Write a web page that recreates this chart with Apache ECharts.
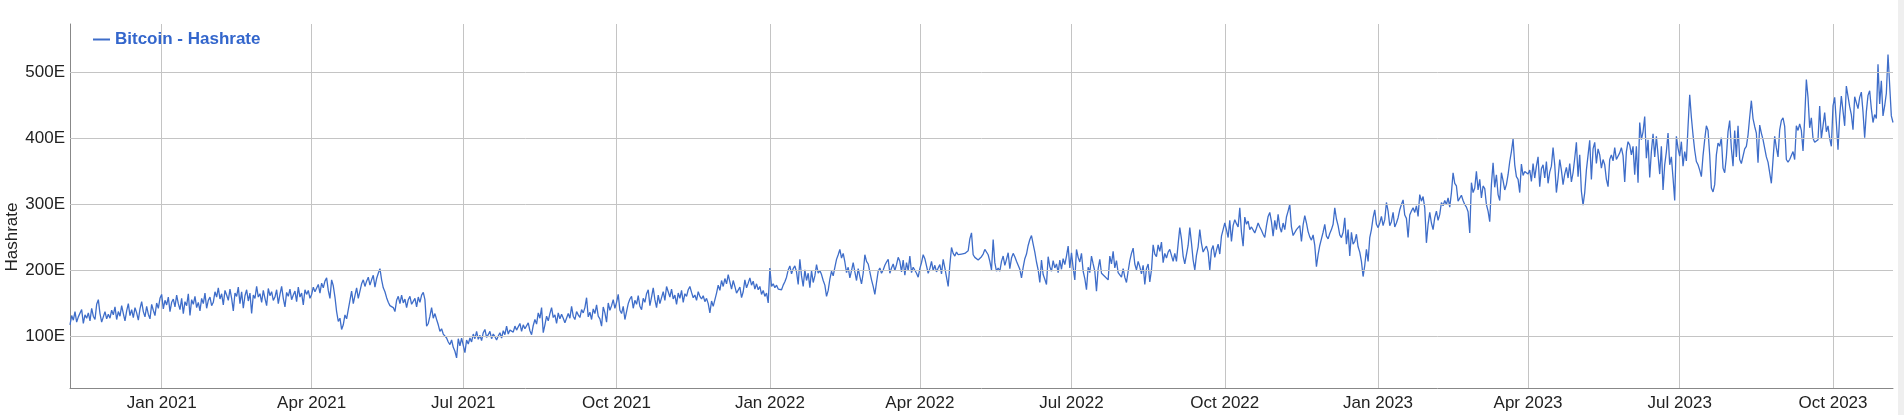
<!DOCTYPE html>
<html>
<head>
<meta charset="utf-8">
<script src="https://cdn.jsdelivr.net/npm/echarts@6/dist/echarts.min.js"></script>
<style>
html,body{margin:0;padding:0;background:#fff;}
#chart{width:1904px;height:415px;}
</style>
</head>
<body>
<div id="chart"></div>
<script>
// ---- data (daily, starting 2020-11-07) ----
const startDate = '2020-11-07';
const seriesName = 'Bitcoin - Hashrate';
const yAxisTitle = 'Hashrate';
const yTicks = [100, 200, 300, 400, 500];
const quarterMonths = ['01', '04', '07', '10'];
const monthNames = ['Jan','Feb','Mar','Apr','May','Jun','Jul','Aug','Sep','Oct','Nov','Dec'];

const hr2020 = [
  118,132,125,138,122,130,127,141,120,133,128,136,124,143,131,126,149,156,135,122,130,138,127,134,
  128,140,133,145,126,138,131,147,135,124,139,150,132,141,129,144,136,125,142,153,138,130,146,134,127,149,140,132,151,143,158
];
const hr2021 = [
  164,142,155,148,160,138,152,157,145,163,150,141,158,135,153,147,165,132,156,149,161,144,152,139,158,150,166,143,155,160,147,
  152,168,160,174,157,165,148,170,163,155,172,158,139,166,161,175,150,168,143,162,171,154,166,135,163,158,176,160,
  165,152,170,158,147,173,162,168,155,160,171,150,164,176,158,145,167,161,172,156,163,169,153,175,160,166,148,171,164,170,158,
  164,175,168,171,179,166,181,174,184,189,170,158,186,177,160,138,123,128,111,118,133,127,141,155,169,150,162,174,158,156,
  180,186,176,184,190,178,186,193,175,188,196,203,186,174,168,159,152,147,150,144,138,155,161,150,163,151,157,144,156,161,149,
  148,158,145,160,152,163,167,156,116,120,131,144,128,135,126,118,108,112,104,106,98,92,88,95,84,78,68,97,86,98,
  100,76,95,89,98,92,104,97,108,96,102,94,106,111,99,103,108,97,104,100,95,101,106,98,109,103,116,104,110,113,107,
  116,110,113,120,108,118,112,115,121,109,103,117,126,119,136,128,144,106,118,131,124,135,144,129,133,120,136,127,134,128,121,
  124,135,128,146,131,126,138,133,129,141,136,144,159,130,137,126,142,135,148,131,127,116,145,136,122,151,140,147,156,143,
  152,164,140,135,146,126,138,150,157,161,143,155,149,162,146,141,158,152,165,171,147,160,174,156,144,163,150,159,168,155,176,
  168,160,172,157,163,149,166,158,170,152,165,161,171,176,167,159,163,155,168,161,157,162,153,158,150,136,154,146,144,166,
  178,170,185,176,188,180,194,183,172,185,176,166,164,175,159,168,186,174,181,189,178,184,172,180,171,176,164,170,161,166,151
];
const hr2022 = [
  204,176,180,174,178,172,175,171,178,183,190,201,207,195,203,207,198,179,217,192,176,201,185,196,174,200,182,192,209,196,200,
  194,185,178,161,170,187,199,192,205,217,224,232,219,226,213,197,205,189,200,212,198,185,203,191,180,196,224,214,
  210,198,186,176,164,182,199,204,196,201,208,213,217,196,204,210,200,209,220,214,198,216,193,212,200,222,197,205,208,196,190,
  203,212,224,218,207,196,203,214,200,208,198,204,209,195,217,204,190,176,208,235,226,222,228,224,221,225,223,226,224,230,
  248,257,224,220,218,216,219,221,225,232,229,224,214,201,247,212,199,204,199,214,222,208,217,227,203,219,226,221,214,211,202,
  189,205,218,225,238,247,253,240,228,213,201,182,216,194,187,179,221,206,199,215,204,210,197,216,202,218,209,222,237,204,
  227,204,186,232,220,213,226,199,188,171,205,197,222,210,199,169,203,217,196,193,191,190,186,222,210,229,204,215,197,194,190,
  203,190,182,199,215,226,234,210,201,214,206,195,208,179,203,210,183,201,239,225,221,239,229,243,212,226,219,228,232,230,214,
  226,214,240,265,248,222,210,207,238,265,242,216,201,223,236,262,241,228,233,237,228,201,231,238,220,231,240,225,252,262,
  272,262,250,276,244,268,277,271,266,295,258,237,281,270,275,262,266,268,257,264,272,266,261,255,250,268,282,288,274,252,276,
  262,285,266,258,272,262,281,290,300,266,253,251,262,265,268,244,269,283,272,259,251,246,254,238,206,224,238,248,258,270,
  252,248,256,262,270,295,278,268,254,250,258,280,240,262,222,258,240,244,255,236,228,214,191,208,232,214,250,262,280,292,270
];
const hr2023 = [
  265,272,282,268,277,303,290,268,274,288,266,272,280,292,300,307,284,279,250,284,290,295,288,298,282,315,305,312,295,242,270,
  288,272,262,280,290,276,285,303,298,306,300,310,296,318,348,332,328,305,302,314,306,300,296,289,257,333,318,325,
  350,322,338,310,328,324,300,290,274,330,363,326,345,315,306,348,336,322,330,345,365,380,399,360,342,338,318,361,344,350,352,
  346,352,335,362,340,358,372,327,354,360,340,365,332,349,358,386,360,318,340,368,352,330,346,356,340,362,334,348,370,394,
  342,375,320,299,318,352,350,397,338,384,394,362,384,375,355,368,360,338,327,368,375,366,386,368,368,378,386,374,334,380,395,
  390,375,388,345,388,333,424,398,410,433,370,398,341,380,407,372,403,375,346,388,322,360,380,408,360,372,340,306,403,385,
  373,395,358,380,366,418,466,432,405,382,365,360,352,342,374,398,419,412,375,325,319,330,375,393,388,401,355,348,372,410,427,
  385,358,412,372,419,368,362,360,384,388,405,432,457,430,418,408,363,420,408,398,395,372,364,365,332,330,403,386,372,413,427,
  431,418,368,364,368,374,380,368,419,412,422,412,381,430,489,462,416,431,400,394,393,398,449,400,419,439,410,419,400,388,
  449,462,424,383,434,464,466,419,479,482,448,436,413,463,460,445,462,470,440,401,440,465,472,445,424,436,430,512,452,487,434,
  449,468,527,525,434,424
];

const values = hr2020.concat(hr2021, hr2022, hr2023);
const categories = [];
(function () {
  const p = startDate.split('-').map(Number);
  const t0 = Date.UTC(p[0], p[1] - 1, p[2]);
  for (let i = 0; i < values.length; i++) {
    categories.push(new Date(t0 + i * 86400000).toISOString().slice(0, 10));
  }
})();
const isQuarterStart = (v) => v.slice(8, 10) === '01' && quarterMonths.indexOf(v.slice(5, 7)) >= 0;

const FONT = "'Liberation Sans', Arial, sans-serif";
const chart = echarts.init(document.getElementById('chart'), null, { renderer: 'canvas' });
chart.setOption({
  animation: false,
  backgroundColor: '#ffffff',
  textStyle: { fontFamily: FONT },
  grid: { left: 70, right: 11, top: 24, bottom: 27, containLabel: false, outerBoundsMode: 'none' },
  legend: {
    data: [seriesName],
    left: 93, top: 31, padding: 0,
    icon: 'rect', itemWidth: 17, itemHeight: 2, itemGap: 10,
    textStyle: { color: '#3366cc', fontWeight: 'bold', fontSize: 17, fontFamily: FONT }
  },
  xAxis: {
    type: 'category',
    data: categories,
    boundaryGap: false,
    axisLine: { show: true, lineStyle: { color: '#888888', width: 1 } },
    axisTick: { show: false },
    axisLabel: {
      interval: (i, v) => isQuarterStart(v),
      formatter: (v) => monthNames[+v.slice(5, 7) - 1] + ' ' + v.slice(0, 4),
      color: '#222222', fontSize: 17, margin: 7, fontFamily: FONT
    },
    splitLine: { show: true, interval: (i, v) => isQuarterStart(v), lineStyle: { color: '#c4c4c4', width: 1 } }
  },
  yAxis: {
    type: 'value',
    min: 22.4, max: 573,
    splitLine: { show: false },
    axisLine: { show: true, lineStyle: { color: '#888888', width: 1 } },
    axisTick: { show: false },
    axisLabel: {
      customValues: yTicks,
      formatter: (v) => v + 'E',
      color: '#222222', fontSize: 17, margin: 5, fontFamily: FONT
    }
  },
  graphic: [
    {
      type: 'rect', right: 0, top: 0, shape: { width: 6, height: 415 },
      style: { fill: '#efefef' }, silent: true
    },
    {
      type: 'text', x: 12, y: 237, rotation: Math.PI / 2, silent: true,
      style: { text: yAxisTitle, align: 'center', verticalAlign: 'middle', fontSize: 17, fontFamily: FONT, fill: '#222222' }
    }
  ],
  series: [
    {
      name: 'grid',
      type: 'line',
      data: [],
      z: 1,
      silent: true,
      markLine: {
        silent: true, symbol: 'none', animation: false,
        label: { show: false },
        lineStyle: { color: '#c4c4c4', width: 1, type: 'solid' },
        data: yTicks.map((v) => ({ yAxis: v }))
      }
    },
    {
      name: seriesName,
      type: 'line',
      data: values,
      z: 3,
      showSymbol: false,
      symbol: 'none',
      lineStyle: { color: '#3e6dc9', width: 1.3 },
      itemStyle: { color: '#3e6dc9' }
    }
  ]
});
</script>
</body>
</html>
